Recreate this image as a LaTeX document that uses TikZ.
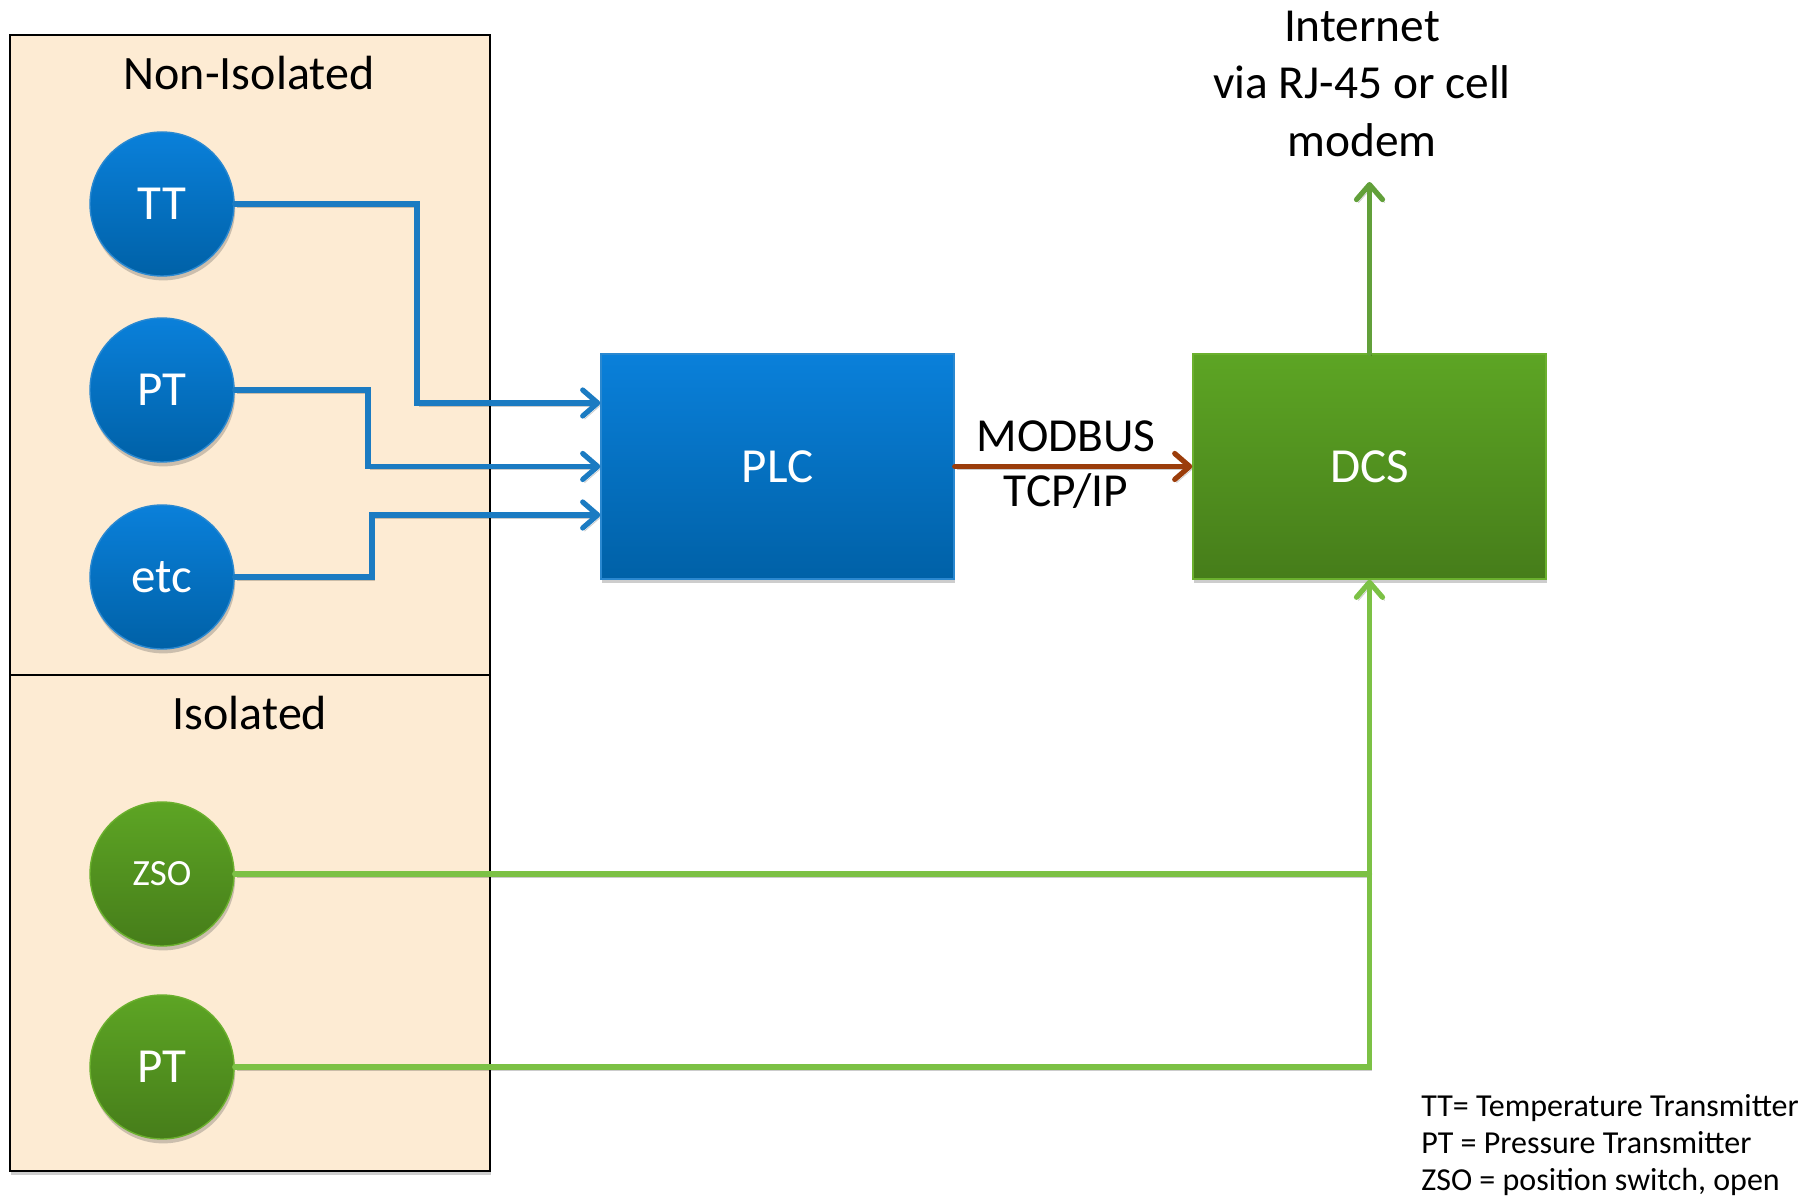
\documentclass[tikz,border=0pt]{standalone}
\usepackage{fontspec}
\setmainfont{Carlito}
\usetikzlibrary{arrows.meta,shadows}

\definecolor{panelfill}{HTML}{FDEBD3}
\definecolor{bluetop}{HTML}{0A80DA}
\definecolor{bluebot}{HTML}{0061A7}
\definecolor{blueedge}{HTML}{2A88D0}
\definecolor{greentop}{HTML}{5DA524}
\definecolor{greenbot}{HTML}{467D1A}
\definecolor{greenedge}{HTML}{6BB02E}
\definecolor{blueline}{HTML}{1B7BC2}
\definecolor{greenline}{HTML}{7CC145}
\definecolor{uplinkgreen}{HTML}{62A03A}
\definecolor{modbusbrown}{HTML}{9B3D0B}

\begin{document}
\begin{tikzpicture}[x=0.5pt,y=-0.5pt,
  softshadow/.style={drop shadow={shadow xshift=0.6pt,shadow yshift=-2.2pt,opacity=0.28,fill=black!70}},
  panel/.style={rectangle,draw=black,line width=1pt,fill=panelfill,inner sep=0pt,outer sep=0pt,softshadow},
  title/.style={font=\fontsize{24}{28}\selectfont,inner sep=0pt},
  sensor/.style={circle,minimum size=72pt,inner sep=0pt,text=white,line width=0.7pt,softshadow,
                 font=\fontsize{24.5}{28}\selectfont},
  bluesensor/.style={sensor,top color=bluetop,bottom color=bluebot,draw=blueedge},
  greensensor/.style={sensor,top color=greentop,bottom color=greenbot,draw=greenedge},
  unit/.style={rectangle,minimum width=176.5pt,minimum height=112.5pt,inner sep=0pt,text=white,
               line width=0.7pt,softshadow,font=\fontsize{24.5}{28}\selectfont},
  bluebox/.style={unit,top color=bluetop,bottom color=bluebot,draw=blueedge},
  greenbox/.style={unit,top color=greentop,bottom color=greenbot,draw=greenedge},
  wireshadow/.style={preaction={draw=black,opacity=0.2,transform canvas={xshift=1pt,yshift=-1.5pt}}},
  barb/.style={-{Straight Barb[length=7.5pt,width=13pt,round]}},
  wire/.style={line width=2.6pt,line cap=round,wireshadow},
  bluewire/.style={wire,draw=blueline},
  greenwire/.style={wire,draw=greenline},
  caption/.style={font=\fontsize{23.7}{28}\selectfont,inner sep=0pt},
  legend/.style={font=\fontsize{16}{18}\selectfont,inner sep=0pt,anchor=base west}
]
\useasboundingbox (0,0) rectangle (1816,1197);
\fill[white] (0,0) rectangle (1816,1197);

% the two sensor groups
\node[panel,anchor=north west,minimum width=240pt,minimum height=320pt] (nonisopanel) at (10,35) {};
\node[panel,anchor=north west,minimum width=240pt,minimum height=248pt] (isopanel) at (10,675) {};
\node[title,anchor=base] (nonisotitle) at (249,90) {Non-Isolated};
\node[title,anchor=base] (isotitle) at (250,730) {Isolated};

% field instruments
\node[bluesensor] (tt) at (162,204) {TT};
\node[bluesensor] (pt1) at (162,390) {PT};
\node[bluesensor] (etc) at (162,577) {etc};
\node[greensensor,font=\fontsize{18.5}{21}\selectfont] (zso) at (162,874) {ZSO};
\node[greensensor] (pt2) at (162,1067) {PT};

% controllers
\node[bluebox] (plc) at (777.5,466.5) {PLC};
\node[greenbox] (dcs) at (1369.5,466.5) {DCS};

% non-isolated signals into the PLC
\draw[bluewire,barb] (tt.east) -| (417,403) -- (plc.west |- 0,403);
\draw[bluewire,barb] (pt1.east) -| (368,466.5) -- (plc.west);
\draw[bluewire,barb] (etc.east) -| (372,515) -- (plc.west |- 0,515);

% PLC to DCS link
\draw[wire,draw=modbusbrown,barb] (plc.east) -- (dcs.west);
\node[caption,anchor=base] (modbus) at (1066,452) {MODBUS};
\node[caption,anchor=base] (tcpip) at (1066,507) {TCP/IP};

% uplink to the internet
\coordinate (net) at (1369.5,182);
\draw[wire,draw=uplinkgreen,barb] (dcs.north) -- (net);
\node[caption,anchor=base] (net1) at (1362,42) {Internet};
\node[caption,anchor=base] (net2) at (1362,99) {via RJ-45 or cell};
\node[caption,anchor=base] (net3) at (1362,157) {modem};

% isolated signals wired straight to the DCS
\draw[greenwire] (zso.east) -- (zso.east -| dcs.south);
\draw[greenwire,barb] (pt2.east) -| (dcs.south);

% abbreviations
\node[legend] (leg1) at (1421,1116) {TT= Temperature Transmitter};
\node[legend] (leg2) at (1421,1153) {PT = Pressure Transmitter};
\node[legend] (leg3) at (1421,1190) {ZSO = position switch, open};
\end{tikzpicture}
\end{document}
